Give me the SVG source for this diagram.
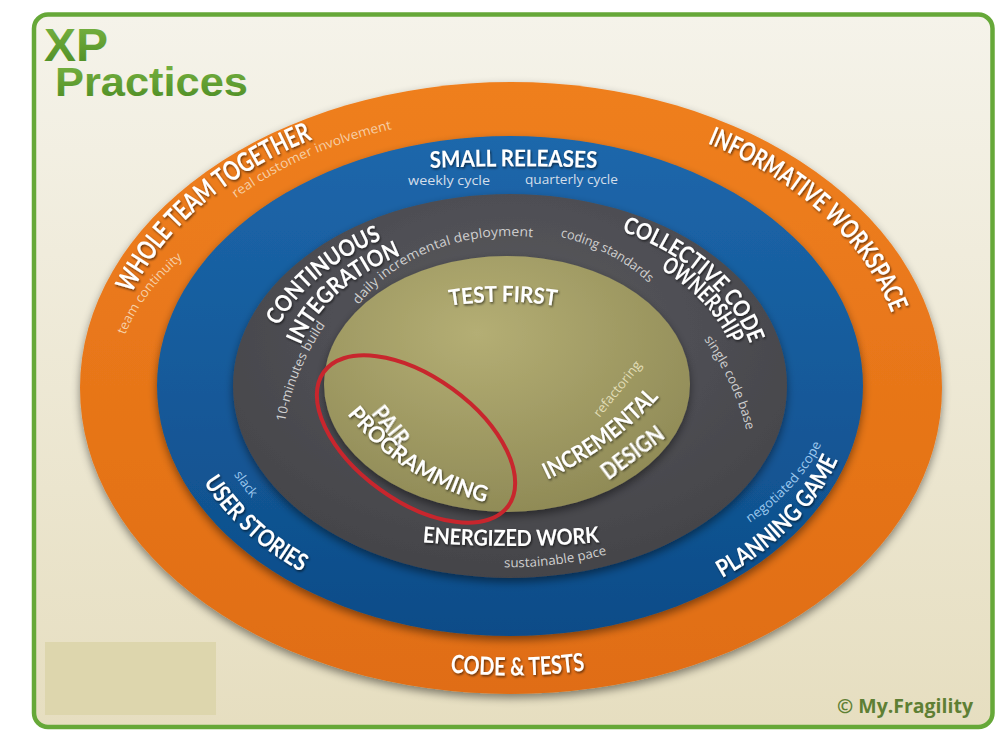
<svg xmlns="http://www.w3.org/2000/svg" width="1002" height="739" viewBox="0 0 1002 739">
<defs>
<style>
.big{font-family:"Lato","Open Sans",sans-serif;font-weight:700;fill:#ffffff;filter:url(#ts)}
.sm{font-family:"Open Sans","Lato",sans-serif;font-weight:400;font-size:13px}
.title{font-family:"Liberation Sans",Arial,sans-serif;font-weight:700;fill:url(#gTitle)}
.onOrange{fill:#f6cfa6}
.onBlue{fill:#d3deea}
.onBlueLight{fill:#9cc8ee}
.onGray{fill:#cfcfcf}
.onOlive{fill:#e2deb8}
</style>
<linearGradient id="gBg" x1="0" y1="0" x2="0" y2="1">
<stop offset="0" stop-color="#f5f3ea"/>
<stop offset="1" stop-color="#e6dec0"/>
</linearGradient>
<linearGradient id="gTitle" x1="0" y1="0" x2="0" y2="1">
<stop offset="0" stop-color="#7bb544"/>
<stop offset="1" stop-color="#4a8a22"/>
</linearGradient>
<linearGradient id="gOrange" x1="0" y1="0" x2="0" y2="1">
<stop offset="0" stop-color="#ef7f1f"/>
<stop offset="1" stop-color="#e06d13"/>
</linearGradient>
<linearGradient id="gBlue" x1="0" y1="0" x2="0" y2="1">
<stop offset="0" stop-color="#1d67ab"/>
<stop offset="1" stop-color="#0d4c88"/>
</linearGradient>
<radialGradient id="gGray" cx="0.5" cy="0.35" r="0.7">
<stop offset="0" stop-color="#5a5a5f"/>
<stop offset="1" stop-color="#424247"/>
</radialGradient>
<radialGradient id="gOlive" cx="0.42" cy="0.3" r="0.75">
<stop offset="0" stop-color="#b4ae74"/>
<stop offset="1" stop-color="#8e8955"/>
</radialGradient>
<filter id="rs" x="-10%" y="-10%" width="120%" height="125%">
<feDropShadow dx="0" dy="4" stdDeviation="4" flood-color="#000" flood-opacity="0.45"/>
</filter>
<filter id="ts" x="-20%" y="-40%" width="140%" height="180%">
<feDropShadow dx="1" dy="1.5" stdDeviation="1" flood-color="#000" flood-opacity="0.6"/>
</filter>
<path id="pWhole" d="M131.8,293.6 A400,283.7 0 0 1 440.5,106.6"/>
<path id="pReal" d="M235.9,198.3 A381,270.2 0 0 1 476.8,116.8"/>
<path id="pTeam" d="M125,335 A395,228.2 0 0 1 256.1,211.2"/>
<path id="pInfo" d="M707.5,143.4 A395,280.1 0 0 1 905,386"/>
<path id="pCode" d="M450.4,672.3 A408,289.4 0 0 0 649.5,658"/>
<path id="pSmall" d="M420,168.5 Q513.5,164 607,168.5"/>
<path id="pCont" d="M278.6,325.9 A247,171.5 0 0 1 425.5,224.8"/>
<path id="pInteg" d="M300.6,344.9 A217.6,151.1 0 0 1 435.6,244"/>
<path id="pDaily" d="M358.5,305 A180,150 0 0 1 571.6,245"/>
<path id="pTen" d="M285,422.1 A240,240 0 0 1 351.7,294.1"/>
<path id="pColl" d="M621.6,231.4 A247,171.5 0 0 1 757,386"/>
<path id="pOwn" d="M660.4,269.1 A228.4,155.4 0 0 1 737.5,399.5"/>
<path id="pCoding" d="M560.3,236.8 A186,155 0 0 1 678.6,320.5"/>
<path id="pSingle" d="M704.1,339.2 A290,290 0 0 1 755.4,480.2"/>
<path id="pEnerg" d="M400,540 Q511,552 622,540"/>
<path id="pSust" d="M504.1,567.2 A261,181.25 0 0 0 659.7,534.5"/>
<path id="pUser" d="M203.7,482.3 A335,237.6 0 0 0 368.4,601.3"/>
<path id="pSlack" d="M233.9,474.4 A303,214.9 0 0 0 277.9,524.1"/>
<path id="pPlan" d="M722.2,578 A344,244 0 0 0 852.7,407.3"/>
<path id="pNeg" d="M749.6,523.1 A325,203 0 0 0 835,386"/>
<path id="pTest" d="M440,307.5 Q503,296 566,307.5"/>
<path id="pProg" d="M347.2,414.2 A254,254 0 0 0 523.4,508.5"/>
<path id="pIncr" d="M547.3,479.7 A350,350 0 0 0 686.1,363.3"/>
</defs>

<rect x="0" y="0" width="1002" height="739" fill="#ffffff"/>

<g id="frame">
<rect x="34" y="14.5" width="958.5" height="712.5" rx="14" ry="14" fill="url(#gBg)" stroke="#66a838" stroke-width="4.5"/>
</g>

<g id="title">
<text class="title" x="44" y="61" font-size="46" textLength="64" lengthAdjust="spacingAndGlyphs">XP</text>
<text class="title" x="55" y="96" font-size="41" textLength="193" lengthAdjust="spacingAndGlyphs">Practices</text>
</g>

<g id="placeholder">
<rect x="45" y="642" width="171" height="73" fill="#ddd6ad"/>
</g>

<g id="rings">
<ellipse id="ring-outer" cx="511" cy="388" rx="431" ry="306" fill="url(#gOrange)" filter="url(#rs)"/>
<ellipse id="ring-team" cx="510" cy="386" rx="353" ry="250" fill="url(#gBlue)" filter="url(#rs)"/>
<ellipse id="ring-code" cx="510" cy="386" rx="277" ry="192" fill="url(#gGray)" filter="url(#rs)"/>
<ellipse id="ring-core" cx="507" cy="384" rx="183" ry="128" fill="url(#gOlive)" filter="url(#rs)"/>
</g>

<g id="connectors"></g>

<g id="whole-team-together">
<text class="big" font-size="27"><textPath href="#pWhole" textLength="243" lengthAdjust="spacingAndGlyphs">WHOLE TEAM TOGETHER</textPath></text>
<text class="sm onOrange"><textPath href="#pReal" textLength="172" lengthAdjust="spacingAndGlyphs">real customer involvement</textPath></text>
<text class="sm onOrange"><textPath href="#pTeam" textLength="97" lengthAdjust="spacingAndGlyphs">team continuity</textPath></text>
</g>

<g id="informative-workspace">
<text class="big" font-size="26"><textPath href="#pInfo" textLength="257" lengthAdjust="spacingAndGlyphs">INFORMATIVE WORKSPACE</textPath></text>
</g>

<g id="code-tests">
<text class="big" font-size="25"><textPath href="#pCode" textLength="135" lengthAdjust="spacingAndGlyphs">CODE &amp; TESTS</textPath></text>
</g>

<g id="small-releases">
<text class="big" font-size="23" text-anchor="middle"><textPath href="#pSmall" startOffset="50%" textLength="167" lengthAdjust="spacingAndGlyphs">SMALL RELEASES</textPath></text>
<text class="sm onBlue" x="408" y="185" textLength="82" lengthAdjust="spacingAndGlyphs">weekly cycle</text>
<text class="sm onBlue" x="525" y="183.5" textLength="93" lengthAdjust="spacingAndGlyphs">quarterly cycle</text>
</g>

<g id="user-stories">
<text class="big" font-size="24"><textPath href="#pUser" textLength="134" lengthAdjust="spacingAndGlyphs">USER STORIES</textPath></text>
<text class="sm onBlueLight"><textPath href="#pSlack" textLength="30" lengthAdjust="spacingAndGlyphs">slack</textPath></text>
</g>

<g id="planning-game">
<text class="big" font-size="24"><textPath href="#pPlan" textLength="168" lengthAdjust="spacingAndGlyphs">PLANNING GAME</textPath></text>
<text class="sm onBlueLight"><textPath href="#pNeg" textLength="108" lengthAdjust="spacingAndGlyphs">negotiated scope</textPath></text>
</g>

<g id="continuous-integration">
<text class="big" font-size="23"><textPath href="#pCont" textLength="137" lengthAdjust="spacingAndGlyphs">CONTINUOUS</textPath></text>
<text class="big" font-size="23"><textPath href="#pInteg" textLength="138" lengthAdjust="spacingAndGlyphs">INTEGRATION</textPath></text>
<text class="sm onGray"><textPath href="#pDaily" textLength="195" lengthAdjust="spacingAndGlyphs">daily incremental deployment</textPath></text>
<text class="sm onGray"><textPath href="#pTen" textLength="106" lengthAdjust="spacingAndGlyphs">10-minutes build</textPath></text>
</g>

<g id="collective-code-ownership">
<text class="big" font-size="23"><textPath href="#pColl" textLength="176" lengthAdjust="spacingAndGlyphs">COLLECTIVE CODE</textPath></text>
<text class="big" font-size="23"><textPath href="#pOwn" textLength="104" lengthAdjust="spacingAndGlyphs">OWNERSHIP</textPath></text>
<text class="sm onGray"><textPath href="#pCoding" textLength="101" lengthAdjust="spacingAndGlyphs">coding standards</textPath></text>
<text class="sm onGray"><textPath href="#pSingle" textLength="101" lengthAdjust="spacingAndGlyphs">single code base</textPath></text>
</g>

<g id="energized-work">
<text class="big" font-size="22" text-anchor="middle"><textPath href="#pEnerg" startOffset="50%" textLength="177" lengthAdjust="spacingAndGlyphs">ENERGIZED WORK</textPath></text>
<text class="sm onGray"><textPath href="#pSust" textLength="104" lengthAdjust="spacingAndGlyphs">sustainable pace</textPath></text>
</g>

<g id="test-first">
<text class="big" font-size="22" text-anchor="middle"><textPath href="#pTest" startOffset="50%" textLength="107" lengthAdjust="spacingAndGlyphs">TEST FIRST</textPath></text>
</g>

<g id="incremental-design">
<text class="big" font-size="23"><textPath href="#pIncr" textLength="140" lengthAdjust="spacingAndGlyphs">INCREMENTAL</textPath></text>
<text class="big" font-size="23" transform="translate(608.3,480.7) rotate(-36.8)" textLength="72" lengthAdjust="spacingAndGlyphs">DESIGN</text>
<text class="sm onOlive" transform="translate(599.5,418.1) rotate(-51.3)" textLength="68" lengthAdjust="spacingAndGlyphs">refactoring</text>
</g>

<g id="pair-programming">
<ellipse cx="416" cy="439" rx="114" ry="62" transform="rotate(36 416 439)" fill="none" stroke="#c8262d" stroke-width="4"/>
<text class="big" font-size="22" transform="translate(370.7,413.6) rotate(51)" textLength="44" lengthAdjust="spacingAndGlyphs">PAIR</text>
<text class="big" font-size="22"><textPath href="#pProg" textLength="167" lengthAdjust="spacingAndGlyphs">PROGRAMMING</textPath></text>
</g>

<g id="copyright">
<text x="837" y="713" font-family="'Open Sans','Lato',sans-serif" font-weight="700" font-size="19.5" fill="#5e7f34" textLength="136" lengthAdjust="spacingAndGlyphs">© My.Fragility</text>
</g>
</svg>
